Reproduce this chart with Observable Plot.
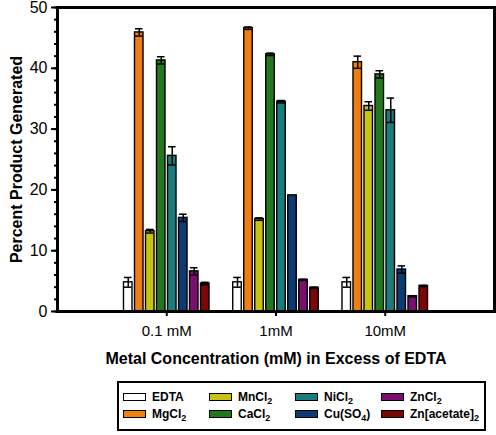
<!DOCTYPE html>
<html>
<head>
<meta charset="utf-8">
<script src="https://cdn.jsdelivr.net/npm/d3@7"></script>
<script src="https://cdn.jsdelivr.net/npm/@observablehq/plot@0.6"></script>
<style>
  html, body { margin: 0; padding: 0; background: #fff; }
  body { width: 496px; height: 435px; overflow: hidden; font-family: "Liberation Sans", Arial, Helvetica, sans-serif; }
  #chart svg { display: block; font-family: "Liberation Sans", Arial, Helvetica, sans-serif; }
  g[aria-label="x-axis label"] text, g[aria-label="y-axis label"] text { font-weight: bold; }
  #legend {
    position: absolute; left: 117px; top: 381px; width: 365px; height: 46px;
    border: 2px solid #000; box-sizing: content-box;
  }
  .item { position: absolute; display: flex; align-items: center; font-weight: bold; font-size: 12px; color: #000; white-space: nowrap; }
  .sw { width: 21px; height: 6px; border: 1px solid #000; margin-right: 6px; }
  .item sub { font-size: 9px; vertical-align: -3px; line-height: 0; }
</style>
</head>
<body>
<div id="chart"></div>
<div id="legend"></div>
<script>
// ---- data ----
const categories = ["0.1 mM", "1mM", "10mM"];
const seriesNames = ["EDTA", "MgCl2", "MnCl2", "CaCl2", "NiCl2", "Cu(SO4)", "ZnCl2", "Zn[acetate]2"];
const seriesLabels = ["EDTA", "MgCl<sub>2</sub>", "MnCl<sub>2</sub>", "CaCl<sub>2</sub>", "NiCl<sub>2</sub>", "Cu(SO<sub>4</sub>)", "ZnCl<sub>2</sub>", "Zn[acetate]<sub>2</sub>"];
const seriesColors = ["#ffffff", "#f07e12", "#c8c312", "#22791d", "#1b7c7c", "#0c3a72", "#7a0f70", "#7d0606"];

const edta    = [4.8, 4.8, 4.8];   const edtaErr    = [0.8, 0.8, 0.8];
const mgcl2   = [45.9, 46.6, 41.0]; const mgcl2Err  = [0.6, 0.2, 1.0];
const mncl2   = [13.2, 15.2, 33.8]; const mncl2Err  = [0.3, 0.2, 0.7];
const cacl2   = [41.3, 42.3, 39.0]; const cacl2Err  = [0.6, 0.2, 0.6];
const nicl2   = [25.6, 34.5, 33.1]; const nicl2Err  = [1.5, 0.2, 2.0];
const cuso4   = [15.4, 19.1, 6.9];  const cuso4Err  = [0.6, 0.0, 0.6];
const zncl2   = [6.6, 5.2, 2.5];    const zncl2Err  = [0.6, 0.1, 0.1];
const znacet  = [4.6, 3.9, 4.2];    const znacetErr = [0.2, 0.1, 0.1];

const yTicks = [0, 10, 20, 30, 40, 50];
const yLabel = "Percent Product Generated";
const xLabel = "Metal Concentration (mM) in Excess of EDTA";

// ---- build table ----
const values = [edta, mgcl2, mncl2, cacl2, nicl2, cuso4, zncl2, znacet];
const errors = [edtaErr, mgcl2Err, mncl2Err, cacl2Err, nicl2Err, cuso4Err, zncl2Err, znacetErr];
const rows = [];
categories.forEach((cat, c) => {
  seriesNames.forEach((name, s) => {
    rows.push({cat, c, s, name, v: values[s][c], e: errors[s][c]});
  });
});
const pitch = 0.1007;   // bar spacing in x units (one category = 1 unit)
const bw = 0.078;       // bar width
const cw = 0.07;        // error cap width
const center = d => d.c + 1 + (d.s - (seriesNames.length - 1) / 2) * pitch;
const errRows = rows.filter(d => d.e > 0);

const chart = Plot.plot({
  width: 496,
  height: 372,
  marginLeft: 57,
  marginRight: 2,
  marginTop: 7,
  marginBottom: 61,
  style: {fontFamily: '"Liberation Sans", Arial, Helvetica, sans-serif', background: "#fff"},
  x: {type: "linear", domain: [0, 4]},
  y: {domain: [0, 50]},
  marks: [
    Plot.rectY(rows, {
      x1: d => center(d) - bw / 2,
      x2: d => center(d) + bw / 2,
      y: "v",
      fill: d => seriesColors[d.s],
      stroke: "#000",
      strokeWidth: 1.4
    }),
    Plot.ruleX(errRows, {x: center, y1: d => d.v - d.e, y2: d => d.v + d.e, stroke: "#000", strokeWidth: 1.5}),
    Plot.ruleY(errRows, {y: d => d.v + d.e, x1: d => center(d) - cw / 2, x2: d => center(d) + cw / 2, stroke: "#000", strokeWidth: 1.5}),
    Plot.ruleY(errRows, {y: d => d.v - d.e, x1: d => center(d) - cw / 2, x2: d => center(d) + cw / 2, stroke: "#000", strokeWidth: 1.5}),
    // minor y ticks
    Plot.axisY({ticks: d3.range(0, 51, 2), tickSize: 3, tickFormat: () => "", label: null, strokeWidth: 2}),
    // major y ticks
    Plot.axisY({ticks: yTicks, tickSize: 6, tickPadding: 4, fontSize: 16, strokeWidth: 2,
      label: yLabel, labelArrow: "none", labelAnchor: "center", labelOffset: 47}),
    Plot.axisX({ticks: [1, 2, 3], tickFormat: i => categories[i - 1], tickSize: 5, tickPadding: 9, fontSize: 15, strokeWidth: 2,
      label: xLabel, labelArrow: "none", labelAnchor: "center", labelOffset: 52}),
    Plot.frame({stroke: "#000", strokeWidth: 3})
  ]
});
chart.querySelectorAll('g[aria-label="y-axis label"] text').forEach(t => { t.setAttribute("font-size", "16"); t.textContent = yLabel; });
chart.querySelectorAll('g[aria-label="x-axis label"] text').forEach(t => { t.setAttribute("font-size", "16"); t.textContent = xLabel; });
document.getElementById("chart").appendChild(chart);

// ---- legend ----
const legend = document.getElementById("legend");
const colX = [4, 90, 176, 262];
const rowY = [7, 24];
seriesNames.forEach((name, s) => {
  const col = Math.floor(s / 2), row = s % 2;
  const div = document.createElement("div");
  div.className = "item";
  div.style.left = colX[col] + "px";
  div.style.top = rowY[row] + "px";
  div.innerHTML = `<span class="sw" style="background:${seriesColors[s]}"></span><span>${seriesLabels[s]}</span>`;
  legend.appendChild(div);
});
</script>
</body>
</html>
